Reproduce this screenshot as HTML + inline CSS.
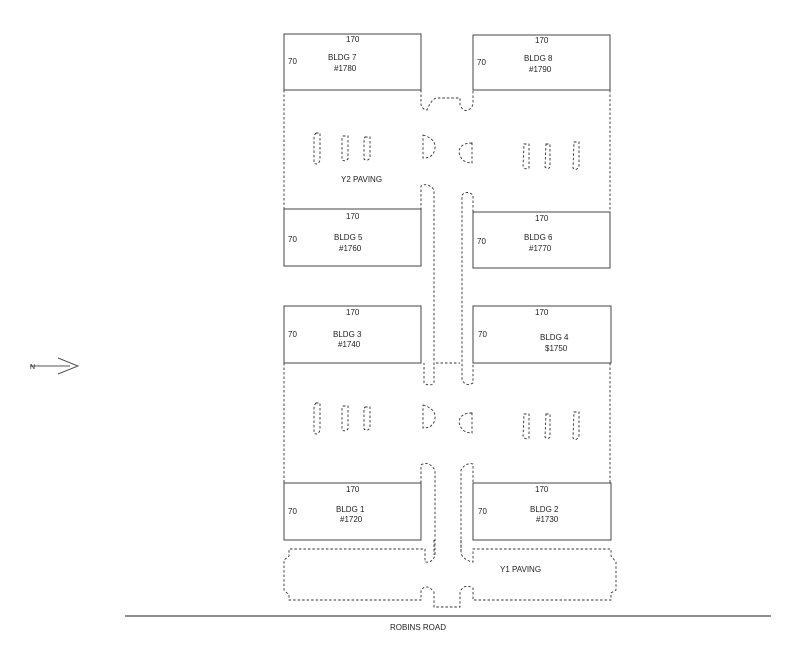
<!DOCTYPE html>
<html><head><style>html,body{margin:0;padding:0;background:#fff}svg{display:block}text{font-family:"Liberation Sans",sans-serif;font-size:8px;fill:#222}</style></head>
<body>
<svg width="800" height="653" viewBox="0 0 800 653" xmlns="http://www.w3.org/2000/svg">
<g fill="none" stroke="#444" stroke-width="1">
<rect x="284" y="34" width="137" height="56"/>
<rect x="473" y="35" width="137" height="55"/>
<rect x="284" y="209" width="137" height="57"/>
<rect x="473" y="212" width="137" height="56"/>
<rect x="284" y="306" width="137" height="57"/>
<rect x="473" y="306" width="138" height="57"/>
<rect x="284" y="483" width="137" height="57"/>
<rect x="473" y="483" width="138" height="57"/>
<line x1="125" y1="616" x2="771" y2="616" stroke="#222"/>
<path d="M30 366 H70 M58 358 L78 366 L58 374" stroke="#555"/>
</g>
<g fill="none" stroke="#333" stroke-width="0.9" stroke-dasharray="2.5,2">
<line x1="284" y1="90" x2="284" y2="209"/>
<line x1="610" y1="90" x2="610" y2="212"/>
<line x1="284" y1="363" x2="284" y2="483"/>
<line x1="610" y1="363" x2="610" y2="483"/>
<path d="M421 90 V105 Q423 110 427 110 Q431 100 436 98 H460 V105 Q463 112 468 110 Q473 108 473 102 V90"/>
<path d="M421 210 V186 Q428 182 434 190 V383 Q430 387 424 383 V363"/>
<path d="M473 212 V195 Q467 190 462 195 V380 Q466 387 473 383 V363"/>
<path d="M436 363 H460"/>
<path d="M421 483 V465 Q428 460 435 470 V555 Q433 563 425 562 V549 H289 V556 L284 560 V590 L289 595 V600 H421 V590 Q427 583 434 592 V607 H460 V592 Q464 583 473 588 V600 H611 V593 L616 590 V562 L611 556 V549 H473 V562 Q463 560 461 553 V470 Q466 462 473 464 V483"/>
<path d="M434 540 V555 M461 540 V553"/>
<g id="stalls">
<path d="M316 133 H320 V160 Q318 166 314 163 V136 Z"/>
<path d="M343 136 H348 V159 Q345 162 342 160 V138 Z"/>
<path d="M365 137 H370 V158 Q367 162 364 159 V139 Z"/>
<path d="M423 135 Q436 139 435 148 Q434 158 423 158 Z"/>
<path d="M472 143 Q460 143 459 152 Q461 163 472 163 Z"/>
<path d="M524 144 H529 V168 Q526 170 523 167 Z"/>
<path d="M546 144 H550 V167 Q548 170 545 167 Z"/>
<path d="M574 142 H579 V166 Q576 172 573 168 Z"/>
</g>
<use href="#stalls" transform="translate(0,270)"/>
</g>
<text x="346" y="42">170</text><text x="535" y="43">170</text>
<text x="288" y="64">70</text><text x="477" y="65">70</text>
<text x="328" y="60">BLDG 7</text><text x="334" y="71">#1780</text>
<text x="524" y="61">BLDG 8</text><text x="529" y="72">#1790</text>
<text x="341" y="182">Y2 PAVING</text>
<text x="346" y="219">170</text><text x="535" y="221">170</text>
<text x="288" y="242">70</text><text x="477" y="244">70</text>
<text x="334" y="240">BLDG 5</text><text x="339" y="251">#1760</text>
<text x="524" y="240">BLDG 6</text><text x="529" y="251">#1770</text>
<text x="346" y="315">170</text><text x="535" y="315">170</text>
<text x="288" y="337">70</text><text x="478" y="337">70</text>
<text x="333" y="337">BLDG 3</text><text x="338" y="347">#1740</text>
<text x="540" y="340">BLDG 4</text><text x="545" y="351">$1750</text>
<text x="346" y="492">170</text><text x="535" y="492">170</text>
<text x="288" y="514">70</text><text x="478" y="514">70</text>
<text x="336" y="512">BLDG 1</text><text x="340" y="522">#1720</text>
<text x="530" y="512">BLDG 2</text><text x="536" y="522">#1730</text>
<text x="500" y="572">Y1 PAVING</text>
<text x="390" y="630">ROBINS ROAD</text>
<text x="30" y="369" style="font-size:7px">N</text>
</svg>
</body></html>
